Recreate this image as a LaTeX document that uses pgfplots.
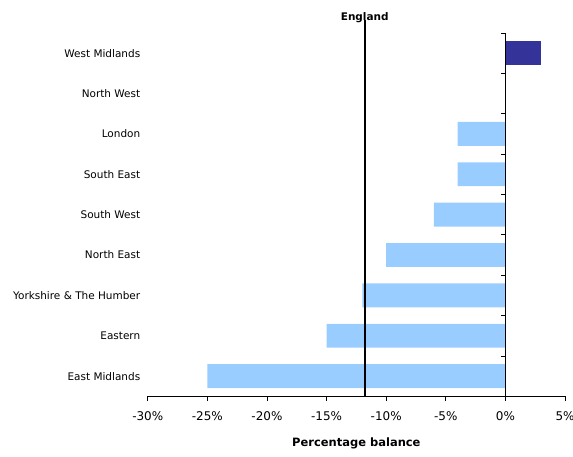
\documentclass[border=0pt]{standalone}
\usepackage{pgfplots}
\pgfplotsset{compat=1.18}
\usepackage{fontspec}
\setmainfont{DejaVu Sans}
\definecolor{lightbar}{HTML}{99CCFF}
\definecolor{darkbar}{HTML}{333399}
\begin{document}
\begin{tikzpicture}
\begin{axis}[
  scale only axis,
  width=418bp, height=364bp,
  xmin=-30, xmax=5,
  ymin=-0.5, ymax=8.5,
  clip=false,
  axis x line*=bottom,
  axis y line*=left,
  y axis line style={draw=none},
  ytick style={draw=none},
  xtick={-30,-25,...,5},
  xticklabel={\pgfmathprintnumber{\tick}\%},
  /pgf/number format/assume math mode=true,
  x tick style={black, line width=0.8pt},
  tick align=outside,
  major tick length=5bp,
  x axis line style={line width=0.8pt, -},
  ytick={0,...,8},
  yticklabels={East Midlands,Eastern,Yorkshire \& The Humber,North East,South West,South East,London,North West,West Midlands},
  y tick label style={xshift=1bp, font=\fontsize{10.5bp}{12bp}\selectfont},
  xlabel={\textbf{Percentage balance}},
  xlabel style={yshift=-10bp},
  x tick label style={yshift=-7bp, font=\fontsize{12bp}{14bp}\selectfont},
  every axis label/.append style={font=\fontsize{11.5bp}{13bp}\selectfont},
  bar width=24bp,
]
\addplot[xbar, fill=lightbar, draw=none, bar shift=0pt] coordinates {
  (-25,0) (-15,1) (-12,2) (-10,3) (-6,4) (-4,5) (-4,6) (0,7)
};
\addplot[xbar, fill=darkbar, draw=none, bar shift=0pt] coordinates {(3,8)};
% y-axis at 0
\addplot[sharp plot, draw=black, line width=0.8pt, mark=none] coordinates {(0,-0.5) (0,8.5)};
\pgfplotsinvokeforeach{-0.5,0.5,...,8.5}{
  \draw[black, line width=0.8pt] (axis cs:0,#1) -- ++(-4bp,0bp);
}
% England line
\addplot[sharp plot, draw=black, line width=1.8pt, mark=none] coordinates {(-11.8,-0.5) (-11.8,8.82)};
\node[font=\bfseries\fontsize{10.5bp}{12bp}\selectfont, inner sep=0pt] at (axis cs:-11.8,8.88) {England};
\end{axis}
\pgfresetboundingbox
\path (current axis.south west) ++(-148bp,-60bp) rectangle ([shift={(8bp,33bp)}]current axis.north east);
\end{tikzpicture}
\end{document}
